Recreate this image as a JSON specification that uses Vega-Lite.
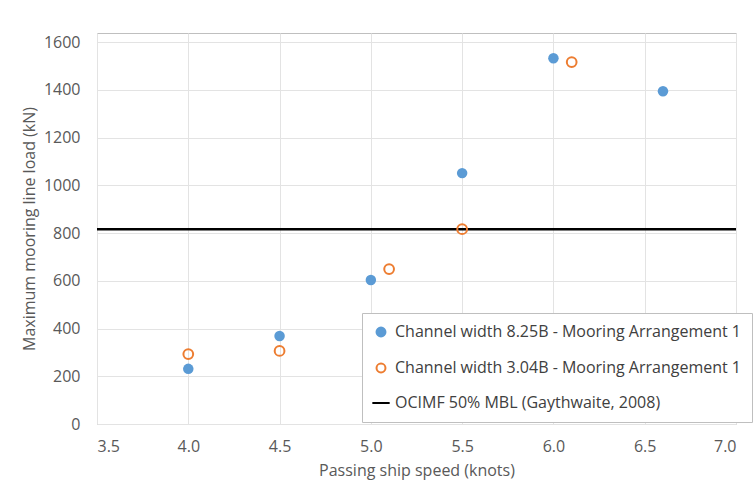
{
  "$schema": "https://vega.github.io/schema/vega-lite/v6.json",
  "width": 639,
  "height": 391,
  "autosize": "none",
  "padding": {"left": 97, "top": 33, "right": 18, "bottom": 71},
  "background": "white",
  "config": {
    "font": "Open Sans",
    "view": {"stroke": "#BFBFBF", "strokeWidth": 1},
    "axis": {
      "labelColor": "#595959",
      "titleColor": "#595959",
      "labelFontSize": 16,
      "titleFontSize": 16,
      "titleFontWeight": "normal",
      "gridColor": "#E3E3E3",
      "domain": false,
      "ticks": false
    }
  },
  "datasets": {
    "points": [
      {"speed": 4.0, "load": 231, "series": "Channel width 8.25B - Mooring Arrangement 1"},
      {"speed": 4.5, "load": 369, "series": "Channel width 8.25B - Mooring Arrangement 1"},
      {"speed": 5.0, "load": 603, "series": "Channel width 8.25B - Mooring Arrangement 1"},
      {"speed": 5.5, "load": 1051, "series": "Channel width 8.25B - Mooring Arrangement 1"},
      {"speed": 6.0, "load": 1532, "series": "Channel width 8.25B - Mooring Arrangement 1"},
      {"speed": 6.6, "load": 1394, "series": "Channel width 8.25B - Mooring Arrangement 1"},
      {"speed": 4.0, "load": 293, "series": "Channel width 3.04B - Mooring Arrangement 1"},
      {"speed": 4.5, "load": 306, "series": "Channel width 3.04B - Mooring Arrangement 1"},
      {"speed": 5.1, "load": 649, "series": "Channel width 3.04B - Mooring Arrangement 1"},
      {"speed": 5.5, "load": 816, "series": "Channel width 3.04B - Mooring Arrangement 1"},
      {"speed": 6.1, "load": 1516, "series": "Channel width 3.04B - Mooring Arrangement 1"}
    ],
    "limit": [
      {"load": 816, "series": "OCIMF 50% MBL (Gaythwaite, 2008)"}
    ]
  },
  "encoding": {
    "color": {
      "field": "series",
      "type": "nominal",
      "scale": {
        "domain": ["Channel width 8.25B - Mooring Arrangement 1", "Channel width 3.04B - Mooring Arrangement 1", "OCIMF 50% MBL (Gaythwaite, 2008)"],
        "range": ["#5B9BD5", "#ED7D31", "#000000"]
      },
      "legend": {
        "title": null,
        "orient": "none",
        "legendX": 265,
        "legendY": 280,
        "padding": 11,
        "rowPadding": 18,
        "labelFontSize": 16,
        "labelColor": "#404040",
        "labelLimit": 420,
        "labelOffset": 6,
        "strokeColor": "#BFBFBF",
        "fillColor": "white",
        "symbolSize": 90,
        "encode": {
          "symbols": {
            "update": {
              "shape": {"signal": "datum.value === 'OCIMF 50% MBL (Gaythwaite, 2008)' ? 'stroke' : 'circle'"},
              "fill": {"signal": "datum.value === 'Channel width 8.25B - Mooring Arrangement 1' ? '#5B9BD5' : 'transparent'"},
              "fillOpacity": {"signal": "datum.value === 'Channel width 8.25B - Mooring Arrangement 1' ? 1 : 0"},
              "stroke": {"signal": "datum.value === 'Channel width 8.25B - Mooring Arrangement 1' ? 'transparent' : (datum.value === 'Channel width 3.04B - Mooring Arrangement 1' ? '#ED7D31' : '#000000')"},
              "strokeOpacity": {"value": 1},
              "strokeWidth": {"value": 2},
              "size": {"signal": "datum.value === 'OCIMF 50% MBL (Gaythwaite, 2008)' ? 300 : 80"}
            }
          }
        }
      }
    }
  },
  "layer": [
    {
      "data": {"name": "limit"},
      "mark": {"type": "rule", "strokeWidth": 2.4},
      "encoding": {
        "y": {"field": "load", "type": "quantitative"}
      }
    },
    {
      "data": {"name": "points"},
      "transform": [{"filter": "datum.series === 'Channel width 8.25B - Mooring Arrangement 1'"}],
      "mark": {"type": "point", "shape": "circle", "size": 110, "filled": true, "opacity": 1},
      "encoding": {
        "x": {
          "field": "speed",
          "type": "quantitative",
          "scale": {"domain": [3.5, 7.0], "nice": false, "zero": false},
          "axis": {"values": [3.5, 4.0, 4.5, 5.0, 5.5, 6.0, 6.5, 7.0], "format": ".1f", "title": "Passing ship speed (knots)", "labelPadding": 14, "titlePadding": 8}
        },
        "y": {
          "field": "load",
          "type": "quantitative",
          "scale": {"domain": [0, 1638], "nice": false},
          "axis": {"values": [0, 200, 400, 600, 800, 1000, 1200, 1400, 1600], "format": "d", "title": "Maximum mooring line load (kN)", "labelPadding": 17, "titlePadding": 6}
        }
      }
    },
    {
      "data": {"name": "points"},
      "transform": [{"filter": "datum.series === 'Channel width 3.04B - Mooring Arrangement 1'"}],
      "mark": {"type": "point", "shape": "circle", "size": 95, "filled": false, "strokeWidth": 2, "opacity": 1},
      "encoding": {
        "x": {"field": "speed", "type": "quantitative"},
        "y": {"field": "load", "type": "quantitative"}
      }
    }
  ]
}
